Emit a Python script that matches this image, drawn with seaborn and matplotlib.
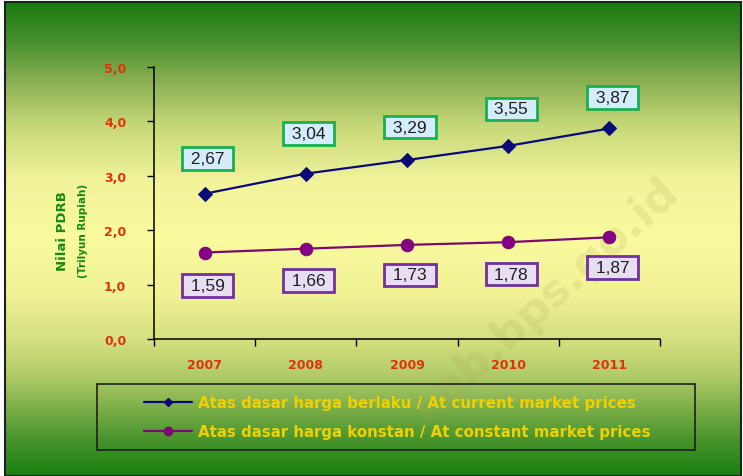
import numpy as np
import pandas as pd
import matplotlib
matplotlib.use("Agg")
import matplotlib.pyplot as plt
import seaborn as sns
from matplotlib.colors import LinearSegmentedColormap
from matplotlib.lines import Line2D
from matplotlib.patches import Rectangle
from matplotlib.ticker import FuncFormatter, MultipleLocator

# data (trillion rupiah)
years = ["2007", "2008", "2009", "2010", "2011"]
current_prices = [2.67, 3.04, 3.29, 3.55, 3.87]
constant_prices = [1.59, 1.66, 1.73, 1.78, 1.87]
label_current = "Atas dasar harga berlaku / At current market prices"
label_constant = "Atas dasar harga konstan / At constant market prices"

# label box offsets in pixels (layout only)
off_current = [35, 40, 33, 37, 31]
off_constant = [33, 32, 30, 32, 30]

df = pd.DataFrame({
    "idx": range(len(years)),
    "current": current_prices,
    "constant": constant_prices,
})

sns.set_theme(style="white")
plt.rcParams["font.family"] = ["DejaVu Sans"]

W, H = 743, 477
px = 72 / 100  # pixels -> points
fig = plt.figure(figsize=(W / 100, H / 100), dpi=100)
fig.patch.set_facecolor("white")

# gradient background
bg = fig.add_axes([5 / W, 0, 736 / W, 1 - 3 / H], zorder=-2)
cmap = LinearSegmentedColormap.from_list("bg", [
    (0.00, "#1b7a10"),
    (0.08, "#458f2c"),
    (0.16, "#86ad50"),
    (0.26, "#c6d878"),
    (0.38, "#f2f49c"),
    (0.50, "#fafa9e"),
    (0.62, "#f0f294"),
    (0.72, "#d2de7e"),
    (0.79, "#b0cb68"),
    (0.86, "#7aae48"),
    (0.93, "#44922a"),
    (1.00, "#1a8010"),
])
grad = np.linspace(0, 1, 256).reshape(-1, 1)
bg.imshow(grad, aspect="auto", cmap=cmap, extent=[0, 1, 1, 0])
bg.set_axis_off()
fig.patches.append(Rectangle((5 / W, 0), 736 / W, 1 - 3 / H, transform=fig.transFigure,
                             fill=False, edgecolor="#202020", linewidth=1.5, zorder=5))

# watermark
fig.text(545 / W, 1 - 300 / H, "kab.bps.go.id", rotation=42, fontsize=32, fontweight="bold",
         color="#a8a850", alpha=0.18, ha="center", va="center", zorder=-1)

ax = fig.add_axes([154 / W, 1 - 340 / H, 506 / W, 272 / H])
ax.set_facecolor("none")

sns.lineplot(data=df, x="idx", y="current", ax=ax, color="#0a0a78", linewidth=1.6,
             marker="D", markersize=7, markeredgecolor="#0a0a78")
sns.lineplot(data=df, x="idx", y="constant", ax=ax, color="#7a0a6e", linewidth=1.6,
             marker="o", markersize=9, markeredgecolor="#7a0a6e",
             markerfacecolor="#850085")

ax.set_xlim(-0.5, len(years) - 0.5)
ax.set_ylim(0, 5)
ax.yaxis.set_major_locator(MultipleLocator(1))
ax.yaxis.set_major_formatter(FuncFormatter(lambda v, p: f"{v:.1f}".replace(".", ",")))
ax.set_xticks(range(len(years)))
ax.set_xticklabels(years)
ax.set_xticks(np.arange(-0.5, len(years)), minor=True)
ax.tick_params(axis="x", which="major", length=0, pad=14)
ax.tick_params(axis="x", which="minor", length=5, width=1, color="black", direction="out")
ax.tick_params(axis="y", length=5, width=1, color="black", direction="out", pad=15)
ax.xaxis.set_ticks_position("bottom")
ax.yaxis.set_ticks_position("left")
for lab in ax.get_xticklabels() + ax.get_yticklabels():
    lab.set_color("#e0320c")
    lab.set_fontweight("bold")
    lab.set_fontsize(9)
for side in ["top", "right"]:
    ax.spines[side].set_visible(False)
for side in ["left", "bottom"]:
    ax.spines[side].set_color("black")
    ax.spines[side].set_linewidth(1.1)
ax.set_xlabel("")
ax.set_ylabel("")

fig.text(63 / W, 1 - 231 / H, "Nilai PDRB", rotation=90, color="#128a12",
         fontweight="bold", fontsize=9.5, ha="center", va="center")
fig.text(83 / W, 1 - 231 / H, "(Trilyun Rupiah)", rotation=90, color="#128a12",
         fontweight="bold", fontsize=7.5, ha="center", va="center")

fmt = lambda v: " " + f"{v:.2f}".replace(".", ",") + " "
for i, v in enumerate(current_prices):
    ax.annotate(fmt(v), (i, v), xytext=(3 * px, off_current[i] * px), textcoords="offset points",
                ha="center", va="center", fontsize=12.5, color="#202020",
                family="Liberation Sans",
                bbox=dict(boxstyle="square,pad=0.22", facecolor="#d4ecfb",
                          edgecolor="#18b050", linewidth=2))
for i, v in enumerate(constant_prices):
    ax.annotate(fmt(v), (i, v), xytext=(3 * px, -off_constant[i] * px), textcoords="offset points",
                ha="center", va="center", fontsize=12.5, color="#202020",
                family="Liberation Sans",
                bbox=dict(boxstyle="square,pad=0.22", facecolor="#e8def3",
                          edgecolor="#7030a0", linewidth=2))

# legend
fig.patches.append(Rectangle((97 / W, 1 - 451 / H), 598 / W, 66 / H, transform=fig.transFigure,
                             fill=False, edgecolor="#202020", linewidth=1.2, zorder=5))
handles = [
    Line2D([], [], color="#0a0a78", linewidth=1.6, marker="D", markersize=4),
    Line2D([], [], color="#7a0a6e", linewidth=1.6, marker="o", markersize=6),
]
leg = fig.legend(handles, [label_current, label_constant], loc="center",
                 bbox_to_anchor=(397 / W, 1 - 418 / H), frameon=False,
                 handlelength=3.2, handletextpad=0.4, labelspacing=0.95,
                 prop=dict(weight="bold", size=10.8))
for t in leg.get_texts():
    t.set_color("#f2d000")

fig.savefig("out.png", dpi=100)
